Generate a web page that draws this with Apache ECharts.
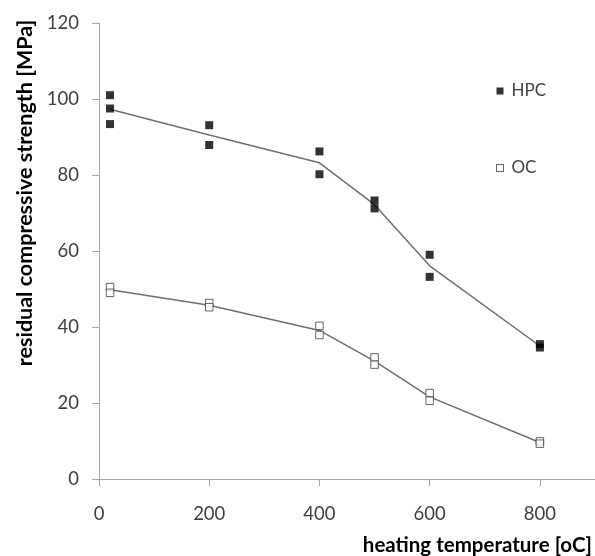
<!DOCTYPE html>
<html>
<head>
<meta charset="utf-8">
<script src="https://cdn.jsdelivr.net/npm/echarts@6/dist/echarts.min.js"></script>
<style>
  html, body { margin: 0; padding: 0; background: #fff; }
  #chart { width: 595px; height: 556px; }
</style>
</head>
<body>
<div id="chart"></div>
<script>
// Residual compressive strength of high-performance (HPC) and ordinary (OC) concrete
// after heating to a given temperature: individual specimens plus mean trend lines.

const temperatures = [20, 200, 400, 500, 600, 800];

// individual specimen results [temperature, strength MPa]
const hpcSpecimens = [
  [20, 101.0], [20, 97.5], [20, 93.4],
  [200, 93.1], [200, 87.9],
  [400, 86.2], [400, 80.2],
  [500, 73.3], [500, 71.2],
  [600, 59.0], [600, 53.2],
  [800, 35.5], [800, 34.6]
];
const ocSpecimens = [
  [20, 50.5], [20, 49.0],
  [200, 46.3], [200, 45.2],
  [400, 40.3], [400, 37.9],
  [500, 32.0], [500, 30.1],
  [600, 22.6], [600, 20.6],
  [800, 9.9], [800, 9.3]
];

// mean strength at each temperature
const hpcMean = [97.3, 90.5, 83.2, 72.2, 56.1, 35.0];
const ocMean = [49.8, 45.7, 39.1, 31.0, 21.6, 9.6];

const yTicks = { min: 0, max: 120, step: 20 };
const xTicks = { min: 0, max: 900, step: 200 };

const FONT = 'Lato';
const chart = echarts.init(document.getElementById('chart'), null, { renderer: 'canvas' });

const pair = (xs, ys) => xs.map((x, i) => [x, ys[i]]);

chart.setOption({
  animation: false,
  backgroundColor: '#ffffff',
  textStyle: { fontFamily: FONT },
  grid: { left: 99, top: 23, width: 498, height: 456, containLabel: false },
  xAxis: {
    type: 'value',
    min: xTicks.min, max: xTicks.max, interval: xTicks.step,
    axisLine: { show: true, onZero: false, lineStyle: { color: '#a6a6a6', width: 1 } },
    axisTick: { show: true, inside: false, length: 7, lineStyle: { color: '#a6a6a6' } },
    splitLine: { show: false },
    axisLabel: {
      showMaxLabel: false, margin: 26,
      fontFamily: FONT, fontSize: 18.5, color: '#404040'
    }
  },
  yAxis: {
    type: 'value',
    min: yTicks.min, max: yTicks.max, interval: yTicks.step,
    axisLine: { show: true, lineStyle: { color: '#a6a6a6', width: 1 } },
    axisTick: { show: true, inside: false, length: 7, lineStyle: { color: '#a6a6a6' } },
    splitLine: { show: false },
    axisLabel: { margin: 20, fontFamily: FONT, fontSize: 18.5, color: '#404040' }
  },
  legend: {
    orient: 'vertical',
    left: 496, top: 81, padding: 0,
    itemWidth: 7, itemHeight: 7, itemGap: 57,
    textStyle: { fontFamily: FONT, fontSize: 17, color: '#404040', lineHeight: 20, padding: [0, 0, 0, 3] },
    data: [
      { name: 'HPC', icon: 'rect', itemStyle: { color: '#000000', borderWidth: 0 } },
      { name: 'OC', icon: 'rect', itemStyle: { color: '#ffffff', borderColor: '#404040', borderWidth: 1 } }
    ]
  },
  graphic: [
    {
      type: 'text', x: 25, y: 193, rotation: Math.PI / 2,
      style: {
        text: 'residual compressive strength [MPa]',
        font: 'bold 21.5px ' + FONT, fill: '#000000',
        align: 'center', verticalAlign: 'middle'
      }
    },
    {
      type: 'text', x: 592, y: 545,
      style: {
        text: 'heating temperature [oC]',
        font: 'bold 20.5px ' + FONT, fill: '#000000',
        align: 'right', verticalAlign: 'middle'
      }
    }
  ],
  series: [
    {
      name: 'HPC mean', type: 'line', data: pair(temperatures, hpcMean),
      showSymbol: false, symbol: 'none', z: 2,
      lineStyle: { color: '#6f6f6f', width: 1.5 }
    },
    {
      name: 'OC mean', type: 'line', data: pair(temperatures, ocMean),
      showSymbol: false, symbol: 'none', z: 2,
      lineStyle: { color: '#6f6f6f', width: 1.5 }
    },
    {
      name: 'HPC', type: 'scatter', data: hpcSpecimens, z: 3,
      symbol: 'rect', symbolSize: 8,
      itemStyle: { color: '#000000' }
    },
    {
      name: 'OC', type: 'scatter', data: ocSpecimens, z: 3,
      symbol: 'rect', symbolSize: 7.5,
      itemStyle: { color: '#ffffff', borderColor: '#404040', borderWidth: 1 }
    }
  ]
});
</script>
</body>
</html>
